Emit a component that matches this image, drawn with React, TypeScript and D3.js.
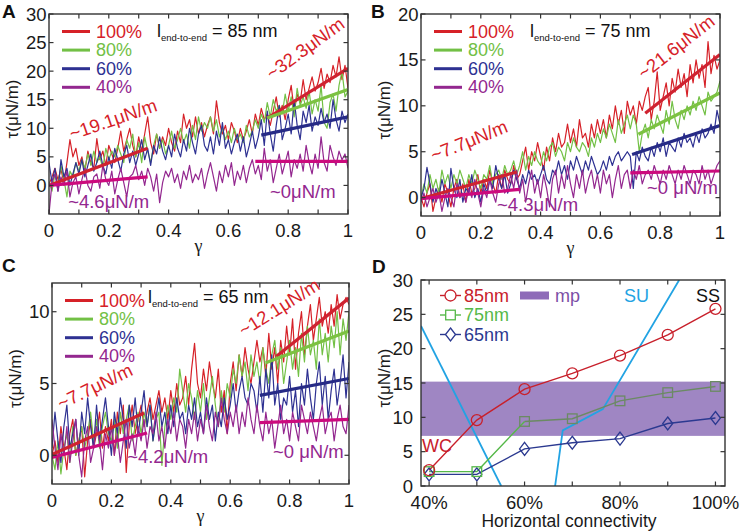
import React from 'react';
import * as d3 from 'd3';

// ---------- data ----------
const GAMMA = d3.range(101).map((i) => i / 100);
const legendLabels = ['100%', '80%', '60%', '40%'];
const gammaTicks = [0, 0.1, 0.2, 0.3, 0.4, 0.5, 0.6, 0.7, 0.8, 0.9, 1];
const gammaLabels = [0, 0.2, 0.4, 0.6, 0.8, 1];

// Panel A (85 nm)
const A100 = [0.2,1.5,3.0,1.0,2.8,0.5,4.0,8.0,5.0,6.5, 3.5,5.0,2.5,6.0,4.0,3.0,8.2,4.5,6.0,3.5, 7.0,5.5,4.0,6.5,9.5,6.0,8.0,10.0,7.0,5.0, 8.5,6.0,9.0,12.0,7.5,5.5,9.0,6.5,8.5,7.0, 10.0,7.5,6.0,9.5,7.5,12.5,10.0,11.5,8.5,12.0, 9.0,11.0,8.5,10.5,12.0,9.0,14.8,11.0,9.0,10.5, 8.0,11.0,9.5,7.5,10.0,8.0,9.5,11.5,9.0,12.5, 10.5,13.5,11.5,12.5,10.5,13.0,15.5,12.0,14.0,11.5, 15.0,17.5,13.0,16.0,14.5,18.5,15.0,17.0,19.0,16.5, 18.0,20.5,17.0,19.5,18.0,21.0,19.0,22.5,18.5,21.0, 17.0];
const A80 = [0.5,-1.0,2.0,0.0,3.5,1.0,-2.0,2.5,1.5,4.0, 2.5,4.5,3.0,5.5,3.5,6.0,4.0,5.0,3.0,6.5, 4.5,6.0,5.0,7.0,5.5,4.0,8.0,6.5,9.0,5.0, 7.5,4.0,8.5,6.0,4.0,7.0,9.0,6.5,8.0,5.5, 7.0,9.5,6.5,8.0,10.0,7.5,9.0,6.5,10.5,8.0, 12.0,9.5,11.0,10.0,12.0,9.5,11.5,8.5,10.0,8.0, 9.5,7.5,10.0,8.0,9.0,7.5,10.5,8.5,9.5,11.5, 10.0,12.5,11.0,14.5,12.0,15.0,13.0,14.0,12.5,16.0, 13.0,15.5,12.0,17.0,14.0,15.5,13.5,16.5,12.5,15.0, 13.0,17.5,11.0,10.0,14.5,16.0,13.0,17.5,20.0,15.5, 16.5];
const A60 = [4.0,0.5,3.0,-1.0,4.5,1.5,3.0,0.0,2.0,4.0, 2.0,4.5,1.5,3.5,5.5,2.5,4.0,6.0,3.5,2.0, 5.0,3.0,6.5,4.5,2.5,5.5,7.0,4.0,6.0,3.5, 5.5,8.0,4.5,6.5,3.5,7.0,5.5,8.5,6.0,4.5, 7.0,5.0,9.0,6.5,5.0,8.0,6.0,10.0,7.5,5.5, 9.0,10.5,7.0,6.0,8.5,5.5,9.5,7.0,11.0,6.5, 8.0,5.5,7.5,9.0,6.0,8.5,5.0,7.0,9.5,6.5, 8.5,11.5,7.0,13.0,9.0,6.0,10.5,14.0,8.0,10.0, 12.5,9.0,15.0,10.5,8.0,13.0,11.0,14.0,9.5,12.0, 10.5,13.5,11.0,12.5,10.0,15.0,11.5,9.5,13.0,11.0, 12.5];
const A40 = [-5.0,0.5,2.0,-1.0,1.5,0.0,2.5,-2.0,0.5,1.5, -1.5,1.0,3.0,0.0,-1.0,1.5,2.0,-0.5,3.5,1.0, 0.0,2.5,-1.5,1.0,3.0,0.5,-2.0,1.5,2.0,3.5, 1.0,2.5,0.0,3.0,1.5,-1.0,2.0,-3.0,0.5,2.5, 1.5,3.0,0.5,2.0,-0.5,2.5,1.0,3.5,0.5,2.0, 1.0,3.0,-0.5,2.0,4.0,1.5,-1.0,2.5,0.5,3.5, 1.5,4.0,0.0,2.5,1.0,3.5,0.5,3.0,4.5,2.0, 3.5,1.0,6.5,2.5,4.5,0.5,3.0,5.5,2.0,4.0, 6.0,1.5,4.5,3.0,5.5,2.5,7.0,4.0,2.0,5.5, 3.0,8.5,4.0,2.5,7.0,5.0,3.5,6.0,4.5,5.5, 3.0];

// Panel B (75 nm)
const B100 = [0.0,-1.0,0.5,1.5,-1.5,0.0,1.0,-0.5,1.5,0.5, -1.0,1.0,2.0,0.0,1.5,-0.5,2.0,0.5,1.0,2.5, 0.5,2.0,1.0,3.0,1.5,0.5,2.5,1.0,3.0,2.0, 1.5,3.5,2.0,2.5,4.0,5.5,3.0,5.0,4.0,6.0, 4.5,3.0,5.5,4.0,6.5,5.0,7.0,5.5,6.0,8.0, 6.0,7.5,5.5,8.5,6.5,7.0,5.5,8.0,6.5,8.5, 7.0,8.5,6.5,9.0,7.5,10.0,8.0,9.5,7.0,10.5, 9.0,10.0,8.0,10.5,9.5,11.0,12.0,8.5,10.5,13.7, 9.5,11.0,12.5,10.0,13.0,11.5,14.0,12.0,13.5,11.0, 14.5,12.5,15.0,13.0,14.5,12.0,17.0,13.5,15.5,14.0, 15.0];
const B80 = [0.0,1.5,0.5,2.5,1.0,2.0,0.5,3.0,1.5,2.5, 1.0,2.5,1.5,3.0,2.0,1.0,2.5,1.5,3.0,2.0, 1.0,2.5,2.0,3.5,1.5,2.5,3.0,2.0,3.5,2.5, 3.0,4.0,2.5,3.5,5.0,3.0,4.5,3.5,5.0,4.0, 3.5,5.0,4.0,5.5,6.0,4.5,5.5,5.0,4.0,6.0, 5.0,6.5,5.5,5.0,6.0,5.5,4.5,6.5,5.5,7.0, 6.0,7.5,6.5,8.0,7.0,6.0,8.5,7.0,8.0,9.0, 7.5,9.0,8.0,5.0,7.0,8.0,6.5,8.5,7.5,9.0, 8.0,7.0,9.5,8.0,10.5,8.5,7.5,9.5,8.5,10.0, 9.0,10.5,9.5,11.0,10.0,9.0,11.5,10.5,11.0,11.5, 12.7];
const B60 = [0.0,1.0,3.3,1.5,-0.5,1.0,0.0,2.0,0.5,-1.0, 3.2,1.0,0.0,2.0,-0.5,1.0,0.5,2.5,0.0,1.0, -0.5,1.5,0.5,2.0,1.0,3.5,2.0,1.0,2.5,0.5, 1.5,3.0,2.0,1.0,2.5,1.5,3.0,2.0,2.5,1.5, 2.5,3.5,2.0,1.5,3.0,2.5,4.0,2.5,3.5,2.0, 4.0,3.0,4.5,3.5,2.5,4.0,3.0,4.5,3.5,2.5, 3.0,4.0,3.0,4.5,3.5,4.5,5.0,4.0,4.5,5.0, 4.5,1.0,5.0,4.0,5.5,4.5,4.0,5.5,4.5,6.0, 5.0,6.5,4.5,6.0,5.5,5.0,6.5,5.5,7.0,6.0, 6.5,5.5,7.0,6.0,7.5,6.5,7.0,8.0,7.0,9.5, 8.0];
const B40 = [-0.5,0.5,-1.0,0.0,1.0,-0.5,0.5,-1.5,0.0,1.0, 0.0,-1.0,1.5,0.0,0.5,-0.5,1.0,0.0,2.0,0.5, -1.0,1.0,0.0,2.0,0.5,-0.5,1.5,2.5,0.5,1.0, 2.5,1.0,3.0,0.5,2.0,-0.5,1.5,3.0,0.5,2.0, 0.0,2.5,1.0,-1.0,2.0,3.0,0.5,2.5,1.0,3.5, 1.5,0.0,2.5,1.0,3.0,0.5,2.0,3.0,1.0,2.5, 0.5,3.0,1.5,2.5,0.0,2.0,3.5,1.0,2.5,3.0, 1.0,3.0,2.0,3.5,1.5,2.5,3.0,2.0,3.5,2.5, 1.5,3.0,2.0,3.5,2.5,1.5,3.0,2.0,3.5,2.5, 1.5,3.0,2.5,1.5,3.5,2.0,3.0,1.5,2.5,3.5, 4.0];

// Panel C (65 nm)
const C100 = [0.0,1.0,-0.5,2.0,0.5,-1.0,1.5,2.5,0.0,1.0, 2.0,-1.5,1.0,2.5,0.5,1.5,3.0,0.5,2.0,1.0, 2.5,0.0,3.0,1.5,3.5,-1.2,2.0,3.5,1.5,2.5, 3.5,2.0,3.0,4.0,2.5,3.5,4.5,3.0,4.0,2.5, 4.5,3.0,5.0,3.5,4.0,5.5,3.5,6.0,7.8,5.0, 4.0,6.0,4.5,6.5,5.0,4.0,6.0,3.0,4.5,1.5, 5.0,6.5,4.5,7.0,5.5,7.5,6.0,5.0,6.5,8.0, 6.5,7.5,5.5,8.5,6.0,7.5,5.0,8.0,6.5,9.0, 7.0,9.5,6.0,8.5,10.0,7.0,9.0,10.5,8.0,9.5, 11.0,9.0,10.0,8.5,10.5,9.0,11.2,9.5,10.5,11.0, 10.5];
const C80 = [0.0,-1.0,1.0,-1.3,0.5,1.5,-0.5,2.0,0.0,1.0, 2.0,0.5,1.5,3.0,1.0,2.5,0.5,2.0,3.0,1.5, 1.0,2.5,0.5,3.0,1.5,2.5,3.5,1.0,2.0,3.0, 1.5,3.0,2.0,3.5,1.0,2.5,3.0,-0.7,2.0,3.5, 2.5,4.0,3.0,6.0,4.5,3.0,5.0,4.0,2.5,4.5, 3.0,5.0,2.5,4.0,5.5,3.5,2.0,4.5,3.0,5.0, 4.0,6.0,5.0,7.0,5.5,6.5,4.5,7.0,5.5,6.5, 5.0,7.5,6.0,5.0,7.0,8.0,6.0,7.5,5.0,6.5, 8.0,6.0,7.5,5.5,8.5,6.5,9.0,7.0,8.0,6.0, 9.5,7.0,8.5,6.5,9.0,7.5,10.0,7.0,9.5,8.0, 10.0];
const C60 = [0.5,3.0,1.0,-0.5,2.0,3.5,0.5,1.5,2.5,0.0, 3.0,1.5,4.0,2.0,0.5,3.5,1.0,2.5,4.0,2.0, 0.0,3.0,1.5,4.0,2.5,0.5,3.5,2.0,4.0,1.5, 3.0,4.5,2.0,3.5,1.0,2.5,4.0,2.0,3.0,1.5, 3.5,2.0,4.0,2.5,3.0,1.5,3.5,2.5,4.0,2.0, 3.0,1.5,4.0,2.5,3.5,1.0,3.0,2.0,4.0,2.5, 3.5,5.0,3.0,4.5,5.5,4.0,3.5,5.0,4.5,3.0, 5.5,3.0,6.0,4.0,7.0,3.5,5.0,2.5,4.0,3.5, 5.5,3.0,4.5,2.0,5.0,3.5,6.0,4.0,2.5,5.0, 6.5,3.5,5.5,2.5,4.5,6.0,3.5,5.0,7.0,4.0, 6.5];
const C40 = [2.5,0.5,-1.0,1.5,0.0,2.0,-0.5,1.0,2.5,0.0, -1.5,1.0,2.0,-0.5,0.5,2.0,1.0,-1.0,1.5,0.5, 2.0,0.0,1.5,-0.5,1.0,2.5,0.5,1.5,0.0,2.0, 1.0,2.5,0.5,2.0,1.5,3.0,1.0,2.0,0.5,2.5, 1.5,3.0,1.0,2.5,2.0,0.5,2.5,1.5,3.0,1.0, 2.5,1.5,3.5,2.0,1.0,3.0,2.0,4.0,2.5,1.5, 3.0,2.0,3.5,1.5,3.0,2.0,4.0,2.5,1.5,3.5, 2.0,1.0,3.0,1.5,2.5,0.5,2.0,3.5,1.5,2.5, 1.0,3.0,2.0,1.0,3.5,2.5,1.5,3.0,2.0,1.0, 2.5,3.5,1.5,2.5,3.0,1.0,2.5,3.5,2.0,1.5, 3.5];

// Linear fits: [gamma start, gamma end], [tau start, tau end]
const fitsA = [
  { g: [0, 0.33], t: [0, 6.5], c: 'fitRed' },
  { g: [0, 0.33], t: [0, 1.5], c: 'fitMag' },
  { g: [0.73, 1], t: [11.8, 20.5], c: 'fitRed' },
  { g: [0.73, 1], t: [11.8, 16.8], c: 'fitGreen' },
  { g: [0.71, 1], t: [8.8, 12.0], c: 'fitBlue' },
  { g: [0.69, 1], t: [4.2, 4.2], c: 'fitMag' },
];
const fitsB = [
  { g: [0, 0.32], t: [-0.1, 2.8], c: 'fitRed' },
  { g: [0, 0.33], t: [-0.1, 0.9], c: 'fitMag' },
  { g: [0.75, 1], t: [9.2, 15.6], c: 'fitRed' },
  { g: [0.727, 1], t: [6.9, 11.4], c: 'fitGreen' },
  { g: [0.706, 1], t: [4.7, 7.85], c: 'fitBlue' },
  { g: [0.70, 1], t: [2.7, 2.9], c: 'fitMag' },
];
const fitsC = [
  { g: [0, 0.31], t: [0.05, 2.95], c: 'fitRed' },
  { g: [0, 0.32], t: [-0.15, 1.55], c: 'fitMag' },
  { g: [0.756, 1], t: [6.9, 10.95], c: 'fitRed' },
  { g: [0.72, 1], t: [6.45, 8.65], c: 'fitGreen' },
  { g: [0.70, 1], t: [4.17, 5.35], c: 'fitBlue' },
  { g: [0.70, 1], t: [2.27, 2.5], c: 'fitMag' },
];

// Annotations (data coords of text start, rotation)
const notesA = [
  { text: '~19.1μN/m', g: 0.077, t: 7.9, rot: -19, c: 'red' },
  { text: '~32.3μN/m', g: 0.746, t: 18.4, rot: -36, c: 'red' },
  { text: '~4.6μN/m', g: 0.064, t: -3.9, rot: 0, c: 'purple' },
  { text: '~0μN/m', g: 0.739, t: -2.2, rot: 0, c: 'purple' },
];
const notesB = [
  { text: '~7.7μN/m', g: 0.043, t: 3.9, rot: -22, c: 'red' },
  { text: '~21.6μN/m', g: 0.746, t: 12.8, rot: -38, c: 'red' },
  { text: '~4.3μN/m', g: 0.254, t: -1.46, rot: 0, c: 'purple' },
  { text: '~0 μN/m', g: 0.756, t: 0.4, rot: 0, c: 'purple' },
];
const notesC = [
  { text: '~7.7μN/m', g: 0.031, t: 3.15, rot: -26, c: 'red' },
  { text: '~12.1μN/m', g: 0.646, t: 8.24, rot: -32, c: 'red' },
  { text: '~4.2μN/m', g: 0.253, t: -0.53, rot: 0, c: 'purple' },
  { text: '~0 μN/m', g: 0.744, t: -0.19, rot: 0, c: 'purple' },
];

// Panel D
const connectivity = [40, 50, 60, 70, 80, 90, 100];
const tau85 = [2.3, 9.6, 14.1, 16.4, 19.0, 22.0, 25.8];
const tau75 = [2.1, 2.1, 9.4, 9.8, 12.4, 13.6, 14.5];
const tau65 = [1.7, 1.7, 5.4, 6.3, 6.9, 9.1, 9.9];
const mpBand = [7.3, 15.2];
const suLeftX = [38.3, 55.1];
const suLeftY = [23.3, 0];
const suRightX = [66.4, 68.0, 76.4, 92.4];
const suRightY = [0, 8.1, 11.2, 30];
const dXTicks = [40, 50, 60, 70, 80, 90, 100];
const dXLabels = [40, 60, 80, 100];
const dYTicks = [0, 5, 10, 15, 20, 25, 30];

// ---------- style ----------
const COL: Record<string, string> = {
  red: '#d62128',
  green: '#72c045',
  blue: '#2e3192',
  purple: '#93278f',
  fitRed: '#cf2230',
  fitGreen: '#7cc242',
  fitBlue: '#262a86',
  fitMag: '#cc0a7d',
};
const traceColors = [COL.red, COL.green, COL.blue, COL.purple];
const FONT = "'Liberation Sans', Arial, Helvetica, sans-serif";
const SERIF = "'Liberation Serif', 'Times New Roman', serif";
const AX = '#333';
const TICK_FS = 18.5;
const LEG_FS = 18;
const NOTE_FS = 18.5;

type Box = { l: number; r: number; t: number; b: number };

function Clip({ box, clipId }: { box: Box; clipId: string }) {
  return (
    <defs>
      <clipPath id={clipId}>
        <rect x={box.l} y={box.t} width={box.r - box.l} height={box.b - box.t} />
      </clipPath>
    </defs>
  );
}

function Axes({ box, x, y, xTicks, xLabels, xFmt, yTicks, yLabels, yLabGap = 2.5, xLabDy = 22.5 }: any) {
  const tl = 4.5;
  return (
    <g>
      <rect x={box.l} y={box.t} width={box.r - box.l} height={box.b - box.t} fill="none" stroke={AX} strokeWidth={1.4} />
      {xTicks.map((v: number) => (
        <g key={'xt' + v}>
          <line x1={x(v)} x2={x(v)} y1={box.b} y2={box.b - tl} stroke={AX} strokeWidth={1.2} />
          <line x1={x(v)} x2={x(v)} y1={box.t} y2={box.t + tl} stroke={AX} strokeWidth={1.2} />
        </g>
      ))}
      {yTicks.map((v: number) => (
        <g key={'yt' + v}>
          <line x1={box.l} x2={box.l + tl} y1={y(v)} y2={y(v)} stroke={AX} strokeWidth={1.2} />
          <line x1={box.r} x2={box.r - tl} y1={y(v)} y2={y(v)} stroke={AX} strokeWidth={1.2} />
        </g>
      ))}
      {xLabels.map((v: number) => (
        <text key={'xl' + v} x={x(v)} y={box.b + xLabDy} textAnchor="middle" fontSize={TICK_FS} fill="#1a1a1a" fontFamily={FONT}>
          {xFmt(v)}
        </text>
      ))}
      {yLabels.map((v: number) => (
        <text key={'yl' + v} x={box.l - yLabGap} y={y(v)} textAnchor="end" dominantBaseline="central" fontSize={TICK_FS} fill="#1a1a1a" fontFamily={FONT}>
          {v}
        </text>
      ))}
      <text
        transform={`translate(${box.l - 37},${(box.t + box.b) / 2 - 5}) rotate(-90)`}
        textAnchor="middle"
        dominantBaseline="central"
        fontSize={17}
        fill="#1a1a1a"
        fontFamily={FONT}
      >
        τ(μN/m)
      </text>
    </g>
  );
}

function TracePanel({ id, box, yDomain, yTicks, series, fits, notes, len, lenX, lenDy, letter, letterX, letterY }: any) {
  const x = d3.scaleLinear().domain([0, 1]).range([box.l, box.r]);
  const y = d3.scaleLinear().domain(yDomain).range([box.b, box.t]);
  const line = d3
    .line<number>()
    .x((_d, i) => x(GAMMA[i]))
    .y((d) => y(d));
  const clipId = 'clip' + id;
  return (
    <g>
      <Clip box={box} clipId={clipId} />
      <g clipPath={`url(#${clipId})`}>
        {series.map((s: number[], i: number) => (
          <path key={i} d={line(s) || ''} fill="none" stroke={traceColors[i]} strokeWidth={1.2} strokeLinejoin="round" />
        ))}
        {fits.map((f: any, i: number) => (
          <line key={'f' + i} x1={x(f.g[0])} x2={x(f.g[1])} y1={y(f.t[0])} y2={y(f.t[1])} stroke={COL[f.c]} strokeWidth={3.2} />
        ))}
      </g>
      <Axes
        box={box}
        x={x}
        y={y}
        xTicks={gammaTicks}
        xLabels={gammaLabels}
        xFmt={(v: number) => String(v)}
        yTicks={yTicks}
        yLabels={yTicks}
      />
      {notes.map((n: any, i: number) => (
        <text
          key={'n' + i}
          transform={`translate(${x(n.g)},${y(n.t)}) rotate(${n.rot})`}
          fontSize={NOTE_FS}
          fill={COL[n.c]}
          fontFamily={FONT}
        >
          {n.text}
        </text>
      ))}
      {legendLabels.map((lab, i) => (
        <g key={'lg' + i}>
          <line x1={box.l + 13} x2={box.l + 41} y1={box.t + 17.5 + i * 18.6} y2={box.t + 17.5 + i * 18.6} stroke={traceColors[i]} strokeWidth={3} />
          <text x={box.l + 47} y={box.t + 17.5 + i * 18.6} dominantBaseline="central" fontSize={LEG_FS} fill={traceColors[i]} fontFamily={FONT}>
            {lab}
          </text>
        </g>
      ))}
      <text x={box.l + lenX} y={box.t + lenDy} fontSize={18} fill="#111" fontFamily={FONT}>
        l
        <tspan fontSize={9.5} dy={4}>end-to-end</tspan>
        <tspan dy={-4}> = {len} nm</tspan>
      </text>
      <text
        x={(box.l + box.r) / 2}
        y={box.b + 38}
        textAnchor="middle"
        fontSize={18}
        fill="#1a1a1a"
        fontFamily={SERIF}
      >
        γ
      </text>
      <text x={letterX} y={letterY} fontSize={19} fontWeight="bold" fill="#111" fontFamily={FONT}>
        {letter}
      </text>
    </g>
  );
}

function PanelD() {
  const box: Box = { l: 421, r: 725, t: 280, b: 486 };
  const x = d3.scaleLinear().domain([38.3, 102]).range([box.l, box.r]);
  const y = d3.scaleLinear().domain([0, 30]).range([box.b, box.t]);
  const line = d3
    .line<number>()
    .x((_d, i) => x(connectivity[i]))
    .y((d) => y(d));
  const line2 = d3
    .line<number>()
    .x((_d, i) => x(connectivity[i + 2]))
    .y((d) => y(d));
  const suL = d3
    .line<number>()
    .x((_d, i) => x(suLeftX[i]))
    .y((d) => y(d));
  const suR = d3
    .line<number>()
    .x((_d, i) => x(suRightX[i]))
    .y((d) => y(d));
  const C85 = '#c8202b';
  const C75 = '#55b848';
  const C75b = '#6b8a63';
  const C65 = '#2b3990';
  const diamond = (cx: number, cy: number) => `M${cx},${cy - 6.5}L${cx + 5},${cy}L${cx},${cy + 6.5}L${cx - 5},${cy}Z`;
  const ly = [295.5, 315, 334.5];
  return (
    <g>
      <Clip box={box} clipId="clipD" />
      <g clipPath="url(#clipD)">
        <rect x={box.l} y={y(mpBand[1])} width={box.r - box.l} height={y(mpBand[0]) - y(mpBand[1])} fill="#9f86c3" />
        <path d={suL(suLeftY) || ''} fill="none" stroke="#22a3e3" strokeWidth={1.8} />
        <path d={suR(suRightY) || ''} fill="none" stroke="#22a3e3" strokeWidth={1.8} />
        <path d={line(tau65) || ''} fill="none" stroke={C65} strokeWidth={1.4} />
        <path d={line(tau75.slice(0, 3)) || ''} fill="none" stroke={C75} strokeWidth={1.4} />
        <path d={line2(tau75.slice(2)) || ''} fill="none" stroke={C75b} strokeWidth={1.4} />
        <path d={line(tau85) || ''} fill="none" stroke={C85} strokeWidth={1.4} />
        {tau65.map((v, i) => (
          <path key={'d' + i} d={diamond(x(connectivity[i]), y(v))} fill="none" stroke={C65} strokeWidth={1.3} />
        ))}
        {tau75.map((v, i) => (
          <rect key={'s' + i} x={x(connectivity[i]) - 4.8} y={y(v) - 4.8} width={9.6} height={9.6} fill="none" stroke={i < 2 ? C75 : C75b} strokeWidth={1.3} />
        ))}
        {tau85.map((v, i) => (
          <circle key={'c' + i} cx={x(connectivity[i])} cy={y(v)} r={5.5} fill="none" stroke={C85} strokeWidth={1.3} />
        ))}
      </g>
      <Axes
        box={box}
        x={x}
        y={y}
        xTicks={dXTicks}
        xLabels={dXLabels}
        xFmt={(v: number) => v + '%'}
        yTicks={dYTicks}
        yLabels={dYTicks}
        yLabGap={8}
        xLabDy={23}
      />
      {/* legend */}
      <line x1={440} x2={461} y1={ly[0]} y2={ly[0]} stroke={C85} strokeWidth={1.4} />
      <circle cx={450.5} cy={ly[0]} r={5.5} fill="white" stroke={C85} strokeWidth={1.3} />
      <text x={464} y={ly[0]} dominantBaseline="central" fontSize={LEG_FS} fill={C85} fontFamily={FONT}>85nm</text>
      <line x1={440} x2={461} y1={ly[1]} y2={ly[1]} stroke={C75} strokeWidth={1.4} />
      <rect x={450.5 - 4.8} y={ly[1] - 4.8} width={9.6} height={9.6} fill="white" stroke={C75} strokeWidth={1.3} />
      <text x={464} y={ly[1]} dominantBaseline="central" fontSize={LEG_FS} fill={C75} fontFamily={FONT}>75nm</text>
      <line x1={440} x2={461} y1={ly[2]} y2={ly[2]} stroke={C65} strokeWidth={1.4} />
      <path d={diamond(450.5, ly[2])} fill="white" stroke={C65} strokeWidth={1.3} />
      <text x={464} y={ly[2]} dominantBaseline="central" fontSize={LEG_FS} fill={C65} fontFamily={FONT}>65nm</text>
      <line x1={520} x2={549} y1={ly[0]} y2={ly[0]} stroke="#8e6bb8" strokeWidth={8} />
      <text x={555} y={ly[0]} dominantBaseline="central" fontSize={LEG_FS} fill="#7b4fa6" fontFamily={FONT}>mp</text>
      <text x={624} y={ly[0]} dominantBaseline="central" fontSize={LEG_FS} fill="#22a3e3" fontFamily={FONT}>SU</text>
      <text x={696} y={ly[0]} dominantBaseline="central" fontSize={LEG_FS} fill="#111" fontFamily={FONT}>SS</text>
      <text x={422} y={446} dominantBaseline="central" fontSize={LEG_FS} fill={C85} fontFamily={FONT}>WC</text>
      <text x={569} y={527} textAnchor="middle" fontSize={17.5} fill="#1a1a1a" fontFamily={FONT}>
        Horizontal connectivity
      </text>
      <text x={372} y={273} fontSize={19} fontWeight="bold" fill="#111" fontFamily={FONT}>D</text>
    </g>
  );
}

export default function App() {
  return (
    <svg width={743} height={532} style={{ position: 'absolute', left: 0, top: 0, background: 'white' }}>
      <rect width={743} height={532} fill="white" />
      <TracePanel
        id="A"
        box={{ l: 49, r: 348, t: 14, b: 214 }}
        yDomain={[-5, 30]}
        yTicks={[0, 5, 10, 15, 20, 25, 30]}
        series={[A100, A80, A60, A40]}
        fits={fitsA}
        notes={notesA}
        len={85}
        lenX={108}
        lenDy={23}
        letter="A"
        letterX={2}
        letterY={18}
      />
      <TracePanel
        id="B"
        box={{ l: 421, r: 720, t: 14, b: 216 }}
        yDomain={[-2, 20]}
        yTicks={[0, 5, 10, 15, 20]}
        series={[B100, B80, B60, B40]}
        fits={fitsB}
        notes={notesB}
        len={75}
        lenX={109}
        lenDy={23}
        letter="B"
        letterX={371}
        letterY={18}
      />
      <TracePanel
        id="C"
        box={{ l: 52, r: 349, t: 283, b: 484 }}
        yDomain={[-2, 12]}
        yTicks={[0, 5, 10]}
        series={[C100, C80, C60, C40]}
        fits={fitsC}
        notes={notesC}
        len={65}
        lenX={96}
        lenDy={20}
        letter="C"
        letterX={2}
        letterY={272}
      />
      <PanelD />
    </svg>
  );
}
